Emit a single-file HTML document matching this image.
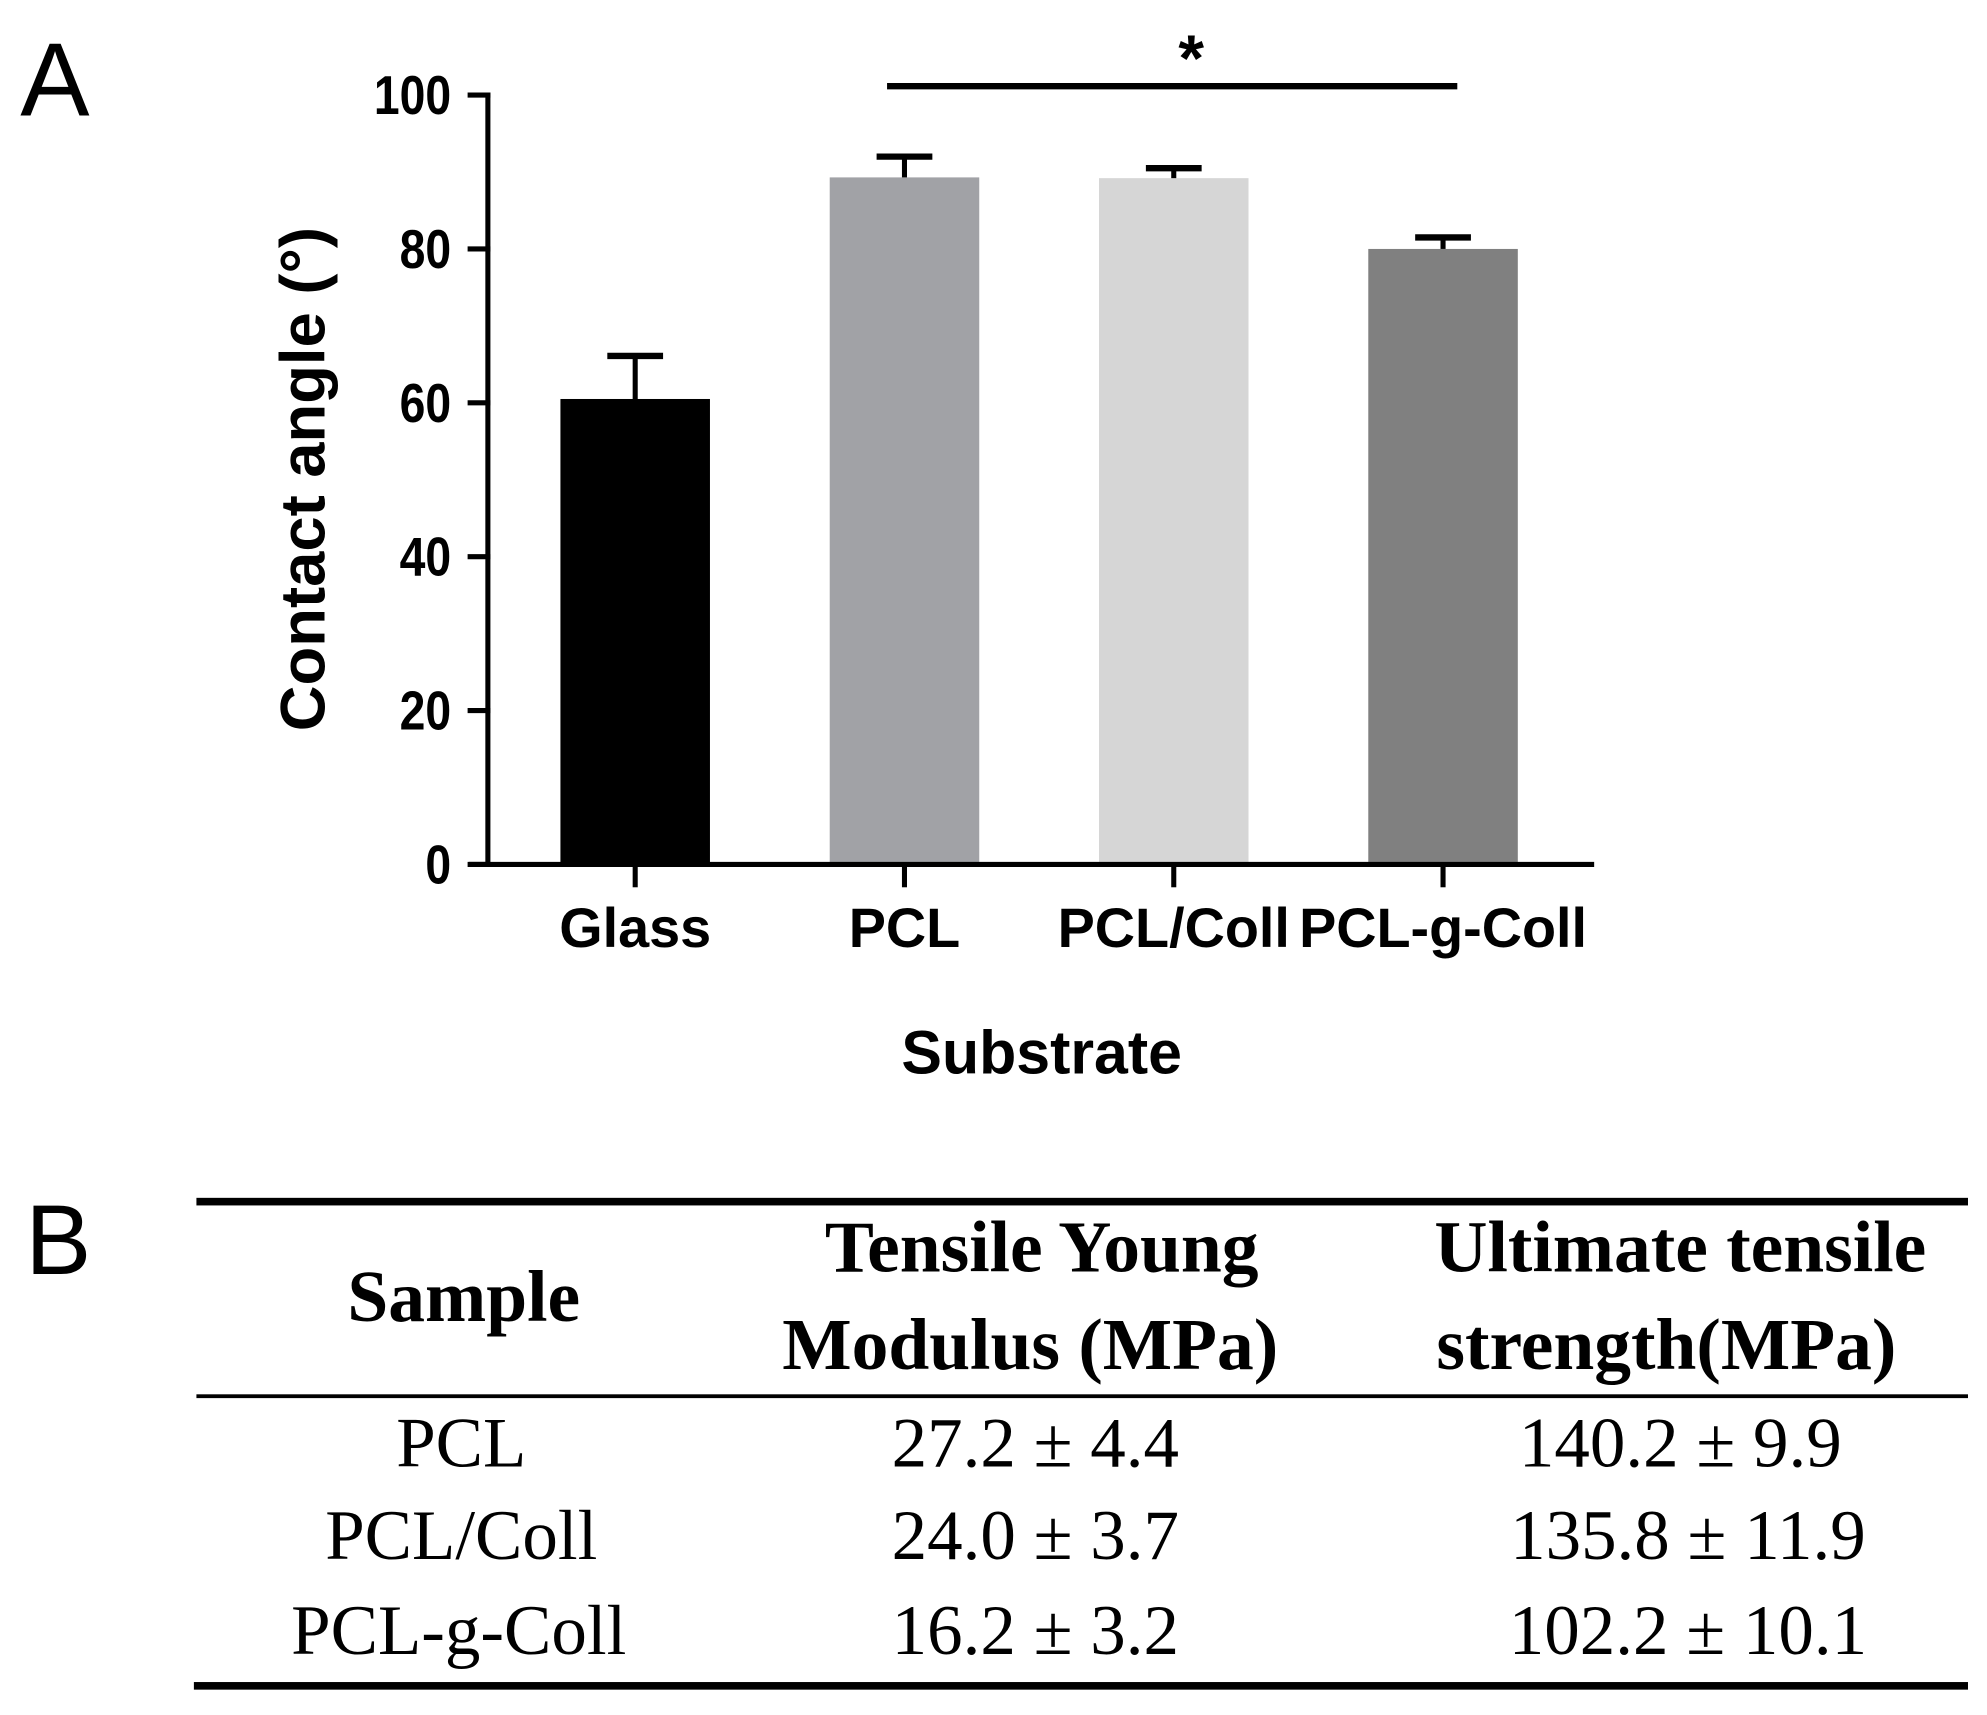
<!DOCTYPE html>
<html><head><meta charset="utf-8"><style>
html,body{margin:0;padding:0;background:#fff;}
svg{display:block;}
</style></head><body>
<svg id="fig" width="1987" height="1715" viewBox="0 0 1568 1353" preserveAspectRatio="none" xmlns="http://www.w3.org/2000/svg">
<g id="chart"></g>
<g id="table" font-family="'Liberation Serif', serif" fill="#000">
  <text x="20" y="1005" font-family="'Liberation Sans', sans-serif" font-size="78">B</text>
  <rect x="155" y="945" width="1398" height="6"/>
  <rect x="155" y="1100" width="1398" height="3"/>
  <rect x="153" y="1327" width="1400" height="6"/>
  <g font-weight="bold" font-size="58" text-anchor="middle">
    <text x="366" y="1042">Sample</text>
    <text x="822" y="1003">Tensile Young</text>
    <text x="813" y="1080">Modulus (MPa)</text>
    <text x="1326" y="1003">Ultimate tensile</text>
    <text x="1315" y="1080">strength(MPa)</text>
  </g>
  <g font-size="56" text-anchor="middle">
    <text x="364" y="1157">PCL</text>
    <text x="817" y="1157">27.2 ± 4.4</text>
    <text x="1326" y="1157">140.2 ±  9.9</text>
    <text x="364" y="1230">PCL/Coll</text>
    <text x="817" y="1230">24.0 ± 3.7</text>
    <text x="1332" y="1230">135.8 ± 11.9</text>
    <text x="362" y="1305">PCL-g-Coll</text>
    <text x="817" y="1305">16.2 ± 3.2</text>
    <text x="1332" y="1305">102.2 ± 10.1</text>
  </g>
</g>
</svg>
<script>
const categories = ["Glass", "PCL", "PCL/Coll", "PCL-g-Coll"];
const means = [60.5, 89.3, 89.2, 80.0];
const errors = [5.6, 2.7, 1.3, 1.5];
const yTicks = [0, 20, 40, 60, 80, 100];
const colors = ["#000000", "#a1a2a6", "#d6d6d6", "#808080"];

const NS = "http://www.w3.org/2000/svg";
const g = document.getElementById("chart");
const y0 = 682, yTop = 75, yMax = 100;
const y = v => y0 - v / yMax * (y0 - yTop);
const xStart = 395, band = 212.5;
const xc = i => xStart + band * (i + 0.5);
const barW = 118;
function mk(tag, attrs) { const e = document.createElementNS(NS, tag); for (const k in attrs) e.setAttribute(k, attrs[k]); g.appendChild(e); return e; }

let t = mk("text", {x: 16, y: 91, "font-family": "'Liberation Sans', sans-serif", "font-size": 82});
t.textContent = "A";



categories.forEach((c, i) => {
  const r = mk("rect", {x: xc(i) - barW / 2, y: y(means[i]), width: barW, height: y0 - y(means[i]), fill: colors[i]});
  
  
  const ev = mk("line", {x1: xc(i), x2: xc(i), y1: y(means[i]), y2: y(means[i] + errors[i]), stroke: "#000", "stroke-width": 4});
  
  
  const cap = mk("line", {x1: xc(i) - 22, x2: xc(i) + 22, y1: y(means[i] + errors[i]), y2: y(means[i] + errors[i]), stroke: "#000", "stroke-width": 5});
  
  
  const tk = mk("line", {x1: xc(i), x2: xc(i), y1: y0, y2: y0 + 18, stroke: "#000", "stroke-width": 4});
  
  
  const lb = mk("text", {x: xc(i), y: 747, "text-anchor": "middle", "font-family": "'Liberation Sans', sans-serif", "font-weight": "bold", "font-size": 44});
  lb.textContent = c;
  
  
});

const ya = mk("line", {x1: 385, x2: 385, y1: yTop - 2, y2: y0 + 2, stroke: "#000", "stroke-width": 4});


const xa = mk("line", {x1: 370, x2: 1258, y1: y0, y2: y0, stroke: "#000", "stroke-width": 4});



yTicks.forEach(v => {
  const tk = mk("line", {x1: 369, x2: 387, y1: y(v), y2: y(v), stroke: "#000", "stroke-width": 4});
  
  
  const lb = mk("text", {x: 0, y: 0, transform: "translate(356," + (y(v) + 15) + ") scale(0.85,1)", "text-anchor": "end", "font-family": "'Liberation Sans', sans-serif", "font-weight": "bold", "font-size": 43});
  lb.textContent = v;
  
  
});

const yt = mk("text", {x: 0, y: 0, transform: "translate(256,378) rotate(-90)", "text-anchor": "middle", "font-family": "'Liberation Sans', sans-serif", "font-weight": "bold", "font-size": 50});
yt.textContent = "Contact angle (°)";


const xt = mk("text", {x: 822, y: 847, "text-anchor": "middle", "font-family": "'Liberation Sans', sans-serif", "font-weight": "bold", "font-size": 48});
xt.textContent = "Substrate";



const sig = mk("line", {x1: 700, x2: 1150, y1: 68, y2: 68, stroke: "#000", "stroke-width": 5});


const st = mk("text", {x: 940, y: 64, "text-anchor": "middle", "font-family": "'Liberation Sans', sans-serif", "font-weight": "bold", "font-size": 52});
st.textContent = "*";


</script>
</body></html>
